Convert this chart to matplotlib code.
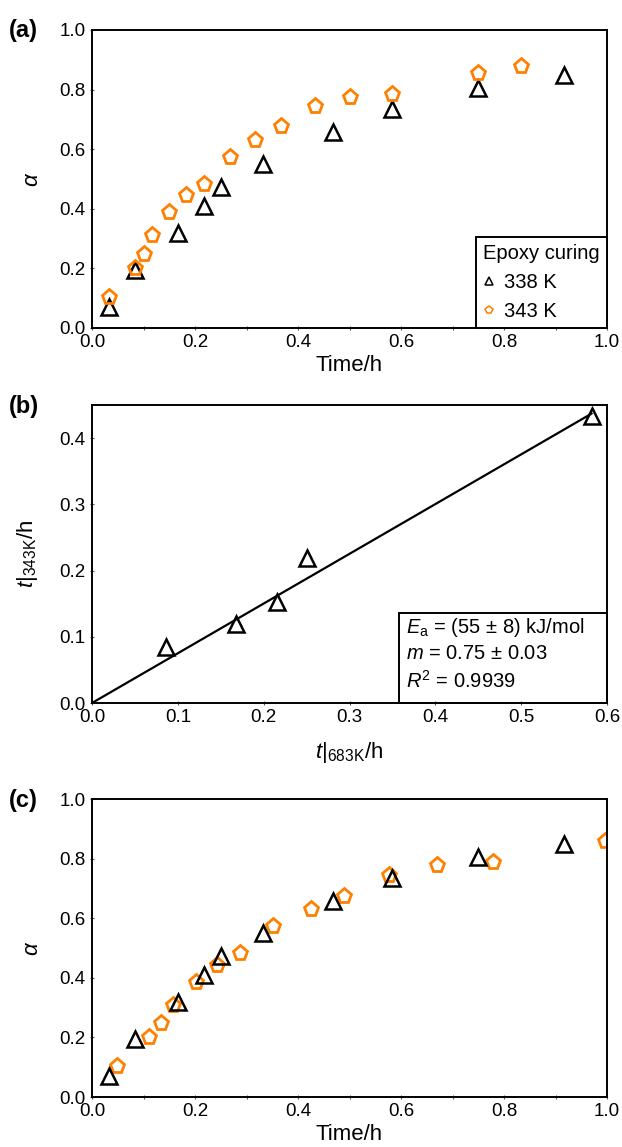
import matplotlib
matplotlib.use("Agg")
import matplotlib.pyplot as plt
from matplotlib.ticker import MultipleLocator

plt.rcParams['font.family'] = ['Liberation Sans', 'DejaVu Sans']
plt.rcParams['mathtext.fontset'] = 'custom'
plt.rcParams['mathtext.rm'] = 'Liberation Sans'
plt.rcParams['mathtext.it'] = 'Liberation Sans:italic'

ORANGE = '#ff8000'
FS = 13.5     # tick labels
LFS = 16      # axis labels
BFS = 14.5    # legend / annotation box

# (a) degree of cure vs time
t_338 = [0.033, 0.083, 0.167, 0.217, 0.250, 0.333, 0.467, 0.583, 0.750, 0.917]
a_338 = [0.072, 0.196, 0.319, 0.410, 0.474, 0.552, 0.657, 0.736, 0.804, 0.849]
t_343 = [0.033, 0.083, 0.100, 0.117, 0.150, 0.183, 0.217, 0.267, 0.317,
         0.367, 0.433, 0.500, 0.583, 0.750, 0.833]
a_343 = [0.104, 0.203, 0.247, 0.312, 0.389, 0.446, 0.482, 0.574, 0.630,
         0.679, 0.744, 0.775, 0.786, 0.857, 0.878]

# (b) isoconversional times
tb_683 = [0.086, 0.168, 0.216, 0.250, 0.582]
tb_343 = [0.085, 0.119, 0.153, 0.219, 0.434]
fit_x = [0.0, 0.582]
fit_y = [0.0, 0.437]

# (c) shifted 343 K data
tc_343 = [0.048, 0.110, 0.134, 0.157, 0.201, 0.242, 0.287, 0.351, 0.426,
          0.490, 0.576, 0.669, 0.778, 0.997]
ac_343 = [0.103, 0.200, 0.250, 0.309, 0.387, 0.443, 0.482, 0.575, 0.631,
          0.676, 0.746, 0.777, 0.788, 0.858]

fig = plt.figure(figsize=(6.22, 11.47), dpi=100)
W, H = 622, 1147
L, R = 92, 607

def add_ax(top, bot):
    return fig.add_axes([L / W, 1 - bot / H, (R - L) / W, (bot - top) / H])

def style(ax):
    for s in ax.spines.values():
        s.set_linewidth(1.4)
    ax.tick_params(which='both', direction='inout', length=3, width=0.8,
                   labelsize=FS, pad=3, color='#555555')

tri = dict(marker='^', ms=11, mfc='none', mec='black', mew=1.8, ls='none')
pent = dict(marker='p', ms=11, mfc='none', mec=ORANGE, mew=2.0, ls='none')

def panel_tag(ax, s):
    ax.text(-83 / (R - L), 1.0 - 1 / 298, s, transform=ax.transAxes,
            fontsize=17, fontweight='bold', ha='left', va='center')

# panel a
ax1 = add_ax(30, 328)
ax1.plot(t_338, a_338, label='338 K', **tri)
ax1.plot(t_343, a_343, label='343 K', **pent)
ax1.set_xlim(0, 1)
ax1.set_ylim(0, 1)
ax1.xaxis.set_major_locator(MultipleLocator(0.2))
ax1.xaxis.set_minor_locator(MultipleLocator(0.1))
ax1.yaxis.set_major_locator(MultipleLocator(0.2))
ax1.set_xlabel('Time/h', fontsize=LFS, labelpad=3)
ax1.set_ylabel(r'$\alpha$', fontsize=16, labelpad=12)
style(ax1)
leg = ax1.legend(title='Epoxy curing', loc='lower right', fontsize=BFS,
                 title_fontsize=BFS, markerscale=0.55, handlelength=0.6,
                 handletextpad=0.45, borderaxespad=0, fancybox=False,
                 edgecolor='black', framealpha=1, borderpad=0.35,
                 labelspacing=0.5)
leg._legend_box.align = 'left'
leg.get_frame().set_linewidth(1.4)
for hnd in leg.legend_handles:
    hnd.set_markeredgewidth(1.1)
panel_tag(ax1, '(a)')

# panel b
ax2 = add_ax(405, 703)
ax2.plot(fit_x, fit_y, color='black', lw=1.6)
ax2.plot(tb_683, tb_343, **tri)
ax2.set_xlim(0, 0.6)
ax2.set_ylim(0, 0.45)
ax2.xaxis.set_major_locator(MultipleLocator(0.1))
ax2.yaxis.set_major_locator(MultipleLocator(0.1))
ax2.set_xlabel(r'$t|_{683\mathrm{K}}$/h', fontsize=LFS, labelpad=10)
ax2.set_ylabel(r'$t|_{343\mathrm{K}}$/h', fontsize=LFS, labelpad=14)
style(ax2)
ax2.text(0.61, 0.292,
         '$E_\\mathrm{a}$ = (55 ± 8) kJ/mol\n$m$ = 0.75 ± 0.03\n$R^2$ = 0.9939',
         transform=ax2.transAxes, fontsize=BFS, va='top', ha='left',
         linespacing=1.35)
ax2.add_patch(plt.Rectangle((0.597, 0.0), 0.403, 0.302, transform=ax2.transAxes,
                            fill=False, ec='black', lw=1.4, clip_on=False))
panel_tag(ax2, '(b)')

# panel c
ax3 = add_ax(799, 1097)
ax3.plot(tc_343, ac_343, **pent)
ax3.plot(t_338, a_338, **tri)
ax3.set_xlim(0, 1)
ax3.set_ylim(0, 1)
ax3.xaxis.set_major_locator(MultipleLocator(0.2))
ax3.xaxis.set_minor_locator(MultipleLocator(0.1))
ax3.yaxis.set_major_locator(MultipleLocator(0.2))
ax3.set_xlabel('Time/h', fontsize=LFS, labelpad=3)
ax3.set_ylabel(r'$\alpha$', fontsize=16, labelpad=12)
style(ax3)
panel_tag(ax3, '(c)')

fig.savefig('out.png', dpi=100)
